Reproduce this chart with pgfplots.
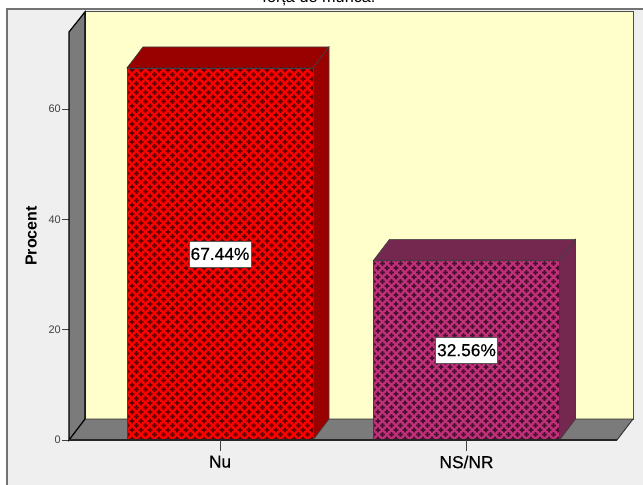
\documentclass[border=0pt]{standalone}
\usepackage{fontspec}
\setmainfont{Liberation Sans}
\newfontfamily\semi[FakeBold=0.35]{Liberation Sans}
\usepackage{pgfplots}
\pgfplotsset{compat=1.18}
\usetikzlibrary{patterns}
\definecolor{panel}{HTML}{EFEFEF}
\definecolor{wall}{HTML}{FFFFCC}
\definecolor{gfloor}{HTML}{7B7B7B}
\definecolor{bara}{HTML}{FF0000}
\definecolor{barad}{HTML}{990000}
\definecolor{barap}{HTML}{660000}
\definecolor{barb}{HTML}{C0307A}
\definecolor{barbd}{HTML}{742850}
\definecolor{barbp}{HTML}{4A1030}
\definecolor{tickc}{HTML}{404040}
\newcommand{\plusat}[2]{%
  \pgfpathrectangle{\pgfqpoint{\dimexpr#1-0.65pt\relax}{\dimexpr#2-1.85pt\relax}}{\pgfqpoint{1.3pt}{3.7pt}}%
  \pgfpathrectangle{\pgfqpoint{\dimexpr#1-1.85pt\relax}{\dimexpr#2-0.65pt\relax}}{\pgfqpoint{3.7pt}{1.3pt}}%
}
\pgfdeclarepatternformonly{plusgrid}{\pgfqpoint{0pt}{0pt}}{\pgfqpoint{7.1pt}{7.1pt}}{\pgfqpoint{7.1pt}{7.1pt}}{%
  \plusat{3.55pt}{3.55pt}%
  \plusat{0pt}{0pt}\plusat{7.1pt}{0pt}\plusat{0pt}{7.1pt}\plusat{7.1pt}{7.1pt}%
  \pgfusepath{fill}%
}
\begin{document}
\begin{tikzpicture}
\begin{scope}[x=0.75pt,y=-0.75pt]
\path[use as bounding box] (0,0) rectangle (643,485);
\fill[white] (0,0) rectangle (643,485);
\fill[panel] (7,9) rectangle (643,485);
\draw[black!55,line width=1.2pt] (7,485) -- (7,9) -- (643,9);
\node[font=\fontsize{12.2pt}{14pt}\selectfont,anchor=base] at (319,2.5) {forța de muncă:};
\end{scope}
\begin{axis}[
  at={(51.75pt,-330pt)},anchor=south west,
  scale only axis,width=411pt,height=306pt,
  xmin=-0.6126,xmax=1.6105,ymin=0,ymax=73.95,
  clip=false,
  axis line style={draw=none},
  xtick={0,1},xticklabels={Nu,NS/NR},
  ytick={0,20,40,60},
  tick style={draw=tickc,line width=0.7pt},
  xtick style={draw=none},
  tick align=outside,
  tickwidth=5pt,
  xtick pos=bottom,ytick pos=left,
  /pgf/number format/assume math mode=true,
  yticklabel style={font=\fontsize{8.2pt}{9pt}\selectfont,text=tickc,inner sep=1pt},
  xticklabel style={font=\semi\fontsize{13pt}{15pt}\selectfont,inner sep=1pt,yshift=-5.5pt},
  ylabel={\textbf{Procent}},
  ylabel style={font=\fontsize{12pt}{14pt}\selectfont,at={(axis description cs:-0.05,0.5)},anchor=south},
]
% back wall, floor, left wall
\addplot[fill=wall,draw=black!70,line width=0.7pt] coordinates {(-0.5477,3.806)(1.6754,3.806)(1.6754,77.6)(-0.5477,77.6)} -- cycle;
\addplot[fill=gfloor,draw=black!80,line width=0.7pt] coordinates {(-0.6126,0)(1.6105,0)(1.6754,3.806)(-0.5477,3.806)} -- cycle;
\addplot[fill=gfloor,draw=black,line width=0.9pt] coordinates {(-0.6126,0)(-0.6126,73.95)(-0.5477,77.6)(-0.5477,3.806)} -- cycle;
% bar 1
\addplot[fill=barad,draw=black!75,line width=0.5pt] coordinates {(-0.3773,67.44)(-0.3124,71.246)(0.4422,71.246)(0.3773,67.44)} -- cycle;
\addplot[fill=barad,draw=black!75,line width=0.5pt] coordinates {(0.3773,0)(0.3773,67.44)(0.4422,71.246)(0.4422,3.806)} -- cycle;
\addplot[fill=bara,draw=none] coordinates {(-0.3773,0)(-0.3773,67.44)(0.3773,67.44)(0.3773,0)} -- cycle;
\addplot[pattern=plusgrid,pattern color=barap,draw=black!75,line width=0.5pt] coordinates {(-0.3773,0)(-0.3773,67.44)(0.3773,67.44)(0.3773,0)} -- cycle;
% bar 2
\addplot[fill=barbd,draw=black!75,line width=0.5pt] coordinates {(0.6227,32.56)(0.6876,36.366)(1.4422,36.366)(1.3773,32.56)} -- cycle;
\addplot[fill=barbd,draw=black!75,line width=0.5pt] coordinates {(1.3773,0)(1.3773,32.56)(1.4422,36.366)(1.4422,3.806)} -- cycle;
\addplot[fill=barb,draw=none] coordinates {(0.6227,0)(0.6227,32.56)(1.3773,32.56)(1.3773,0)} -- cycle;
\addplot[pattern=plusgrid,pattern color=barbp,draw=black!75,line width=0.5pt] coordinates {(0.6227,0)(0.6227,32.56)(1.3773,32.56)(1.3773,0)} -- cycle;
% front baseline
\addplot[draw=black!85,line width=1pt] coordinates {(-0.6126,0)(1.6105,0)};
% x ticks
\addplot[draw=tickc,line width=0.7pt] coordinates {(0,0)(0,-2.0)};
\addplot[draw=tickc,line width=0.7pt] coordinates {(1,0)(1,-2.0)};
% value labels
\addplot[only marks,mark=none,point meta=explicit symbolic,
  nodes near coords,
  every node near coord/.style={anchor=center,fill=white,draw=black!65,line width=0.6pt,
    font=\semi\fontsize{13pt}{15pt}\selectfont,inner sep=1.2pt,minimum height=19.5pt,text=black}]
  coordinates {(0,33.72)[67.44\%] (1,16.28)[32.56\%]};
\end{axis}
\end{tikzpicture}
\end{document}
